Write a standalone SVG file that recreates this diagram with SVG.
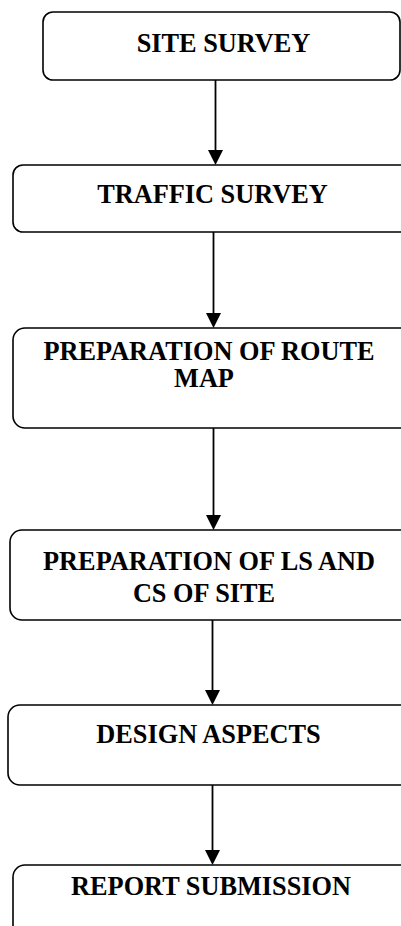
<svg xmlns="http://www.w3.org/2000/svg" width="401" height="926" viewBox="0 0 401 926">
<style>
.box{fill:#fff;stroke:#000;stroke-width:1.6}
.t{font-family:"Liberation Serif","Times New Roman",serif;font-weight:bold;font-size:26.3px;fill:#000;text-anchor:middle}
.c{stroke:#000;stroke-width:1.8;fill:none}
.ah{fill:#000}
</style>
<rect width="401" height="926" fill="#fff"/>
<g id="connectors">
<line class="c" x1="215.5" y1="80" x2="215.5" y2="152"/>
<polygon class="ah" points="208,150 223,150 215.5,165"/>
<line class="c" x1="213.5" y1="232" x2="213.5" y2="315"/>
<polygon class="ah" points="206,313 221,313 213.5,328"/>
<line class="c" x1="213.5" y1="428" x2="213.5" y2="517"/>
<polygon class="ah" points="206,515 221,515 213.5,530"/>
<line class="c" x1="212.5" y1="620" x2="212.5" y2="692"/>
<polygon class="ah" points="205,690 220,690 212.5,705"/>
<line class="c" x1="212.5" y1="785" x2="212.5" y2="852"/>
<polygon class="ah" points="205,850 220,850 212.5,865"/>
</g>
<g id="n1"><rect class="box" x="43" y="12" width="357" height="68" rx="10"/><text class="t" x="223.5" y="52">SITE SURVEY</text></g>
<g id="n2"><rect class="box" x="13" y="165" width="400" height="67" rx="10"/><text class="t" x="212.5" y="203">TRAFFIC SURVEY</text></g>
<g id="n3"><rect class="box" x="13" y="328" width="400" height="100" rx="12"/><text class="t" x="209" y="360">PREPARATION OF ROUTE</text><text class="t" x="204" y="387">MAP</text></g>
<g id="n4"><rect class="box" x="10" y="530" width="403" height="90" rx="12"/><text class="t" x="209" y="570">PREPARATION OF LS AND</text><text class="t" x="204" y="602">CS OF SITE</text></g>
<g id="n5"><rect class="box" x="8" y="705" width="405" height="80" rx="12"/><text class="t" x="208.5" y="743">DESIGN ASPECTS</text></g>
<g id="n6"><rect class="box" x="13" y="865" width="400" height="80" rx="12"/><text class="t" x="211" y="895">REPORT SUBMISSION</text></g>
</svg>
